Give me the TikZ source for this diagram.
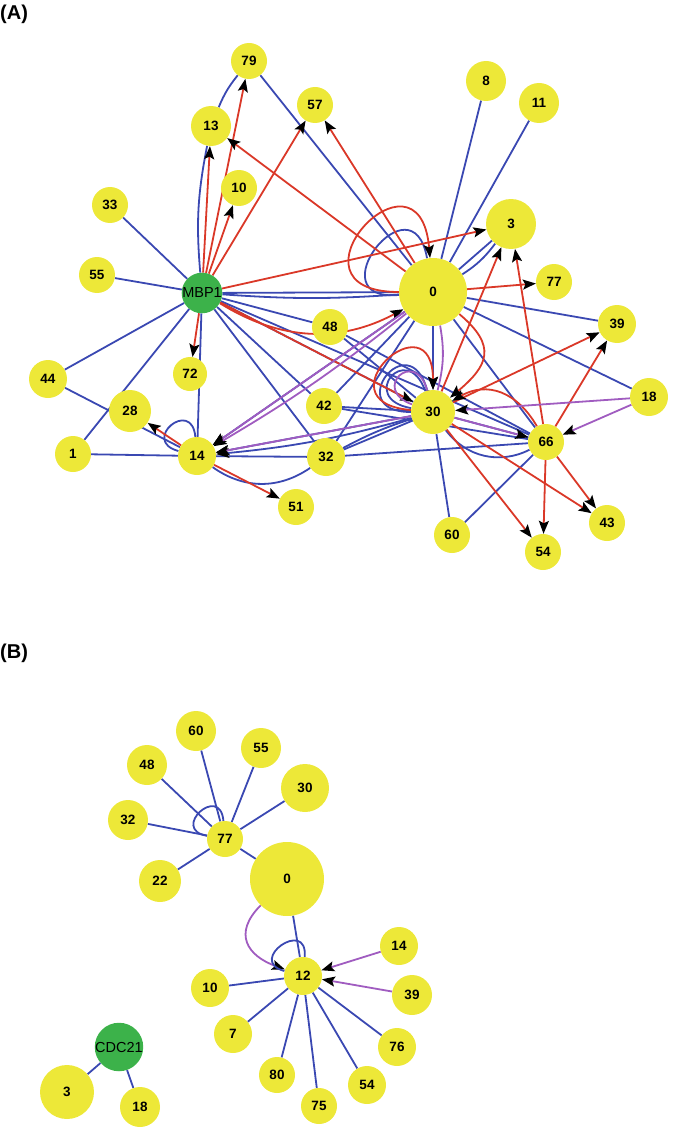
\documentclass[tikz,border=0pt]{standalone}
\usepackage{fontspec}
\setmainfont{Liberation Sans}
\usetikzlibrary{arrows.meta, backgrounds}

\definecolor{geneyellow}{RGB}{237,232,56}
\definecolor{genegreen}{RGB}{60,178,74}
\definecolor{linkblue}{RGB}{58,72,178}
\definecolor{linkred}{RGB}{218,56,40}
\definecolor{linkpurple}{RGB}{160,92,192}

\begin{document}
\begin{tikzpicture}
            [x=1pt, y=1pt,
            gene/.style={circle, fill=geneyellow, inner sep=0pt, minimum size=36pt, font=\bfseries\fontsize{13.5}{13.5}\selectfont},
            hub/.style={circle, fill=genegreen, inner sep=0pt, minimum size=40pt, font=\fontsize{14.5}{14.5}\selectfont},
            panel/.style={anchor=west, inner sep=0pt, font=\bfseries\fontsize{20}{20}\selectfont},
            link/.style={line width=1.8pt},
            tip/.style={-{Stealth[black, length=13pt, width=10pt, inset=2.5pt]}},
            bl/.style={link, draw=linkblue},
            bla/.style={link, draw=linkblue, tip},
            rd/.style={link, draw=linkred, tip},
            pu/.style={link, draw=linkpurple, tip},
            pl/.style={link, draw=linkpurple}]
            \useasboundingbox (0,0) rectangle (685,-1142);

            \node[panel]  (labA)  at (0,-14)   {(A)};
            \node[panel]  (labB)  at (0,-653)  {(B)};

            % panel A
            \node[hub]   (MBP1)  at (202,-293) {MBP1};
            \node[gene]  (A79)   at (249,-61)  {79};
            \node[gene, minimum size=40pt]  (A13)   at (211,-126) {13};
            \node[gene]  (A57)   at (315,-105) {57};
            \node[gene]  (A10)   at (239,-188) {10};
            \node[gene]  (A33)   at (110,-205) {33};
            \node[gene]  (A55)   at (97,-275)  {55};
            \node[gene, minimum size=38pt]  (A44)   at (48,-379)  {44};
            \node[gene, minimum size=34pt]  (A72)   at (190,-374) {72};
            \node[gene, minimum size=42pt]  (A28)   at (130,-411) {28};
            \node[gene]  (A1)    at (73,-454)  {1};
            \node[gene, minimum size=38pt]  (A14)   at (197,-456) {14};
            \node[gene, minimum size=38pt]  (A32)   at (326,-457) {32};
            \node[gene]  (A42)   at (324,-406) {42};
            \node[gene]  (A48)   at (330,-327) {48};
            \node[gene]  (A51)   at (296,-507) {51};
            \node[gene, minimum size=40pt]  (A8)    at (486,-81)  {8};
            \node[gene, minimum size=40pt]  (A11)   at (539,-103) {11};
            \node[gene, minimum size=50pt]  (A3)    at (511,-224) {3};
            \node[gene, minimum size=68pt]  (A0)    at (433,-292) {0};
            \node[gene]  (A77)   at (554,-282) {77};
            \node[gene, minimum size=38pt]  (A39)   at (617,-324) {39};
            \node[gene, minimum size=38pt]  (A18)   at (649,-397) {18};
            \node[gene, minimum size=44pt]  (A30)   at (433,-412) {30};
            \node[gene]  (A66)   at (546,-442) {66};
            \node[gene]  (A60)   at (452,-535) {60};
            \node[gene]  (A54)   at (543,-552) {54};
            \node[gene]  (A43)   at (607,-523) {43};

            % panel B
            \node[gene, minimum size=40pt]  (B60)   at (196,-731) {60};
            \node[gene, minimum size=40pt]  (B55)   at (261,-748) {55};
            \node[gene, minimum size=40pt]  (B48)   at (147,-765) {48};
            \node[gene, minimum size=48pt]  (B30)   at (305,-788) {30};
            \node[gene, minimum size=40pt]  (B32)   at (128,-820) {32};
            \node[gene]  (B77)   at (225,-839) {77};
            \node[gene, minimum size=42pt]  (B22)   at (160,-881) {22};
            \node[gene, minimum size=74pt]  (B0)    at (287,-879) {0};
            \node[gene, minimum size=38pt]  (B12)   at (303,-976) {12};
            \node[gene, minimum size=38pt]  (B14)   at (399,-946) {14};
            \node[gene, minimum size=40pt]  (B39)   at (412,-995) {39};
            \node[gene, minimum size=38pt]  (B10)   at (210,-988) {10};
            \node[gene, minimum size=38pt]  (B7)    at (233,-1034) {7};
            \node[gene, minimum size=38pt]  (B76)   at (397,-1047) {76};
            \node[gene]  (B80)   at (277,-1075) {80};
            \node[gene, minimum size=38pt]  (B54)   at (367,-1085) {54};
            \node[gene]  (B75)   at (319,-1106) {75};
            \node[hub, minimum size=44pt]   (CDC21) at (119,-1047) {CDC21};
            \node[gene, minimum size=54pt]  (B3)    at (67,-1092) {3};
            \node[gene, minimum size=40pt]  (B18)   at (140,-1107) {18};

            \begin{pgfonlayer}{background}
            % blue links of A
            \path (MBP1) edge [bl]                 (A33)
                  (MBP1) edge [bl]                 (A55)
                  (MBP1) edge [bl]                 (A44)
                  (MBP1) edge [bl]                 (A1)
                  (MBP1) edge [bl]                 (A14)
                  (MBP1) edge [bl, bend left=8]    (A13)
                  (A13)  edge [bl, bend left=8]    (A79)
                  (A79)  edge [bl]                 (A0)
                  (MBP1) edge [bl]                 (A0)
                  (MBP1) edge [bl, bend right=4]   (A0)
                  (MBP1) edge [bl]                 (A48)
                  (MBP1) edge [bl]                 (A42)
                  (MBP1) edge [bl]                 (A32)
                  (MBP1) edge [bl]                 (A30)
                  (MBP1) edge [bl]                 (A66)
                  (A44)  edge [bl]                 (A14)
                  (A1)   edge [bl]                 (A14)
                  (A0)   edge [bl]                 (A8)
                  (A0)   edge [bl]                 (A11)
                  (A0)   edge [bl]                 (A3)
                  (A0)   edge [bl, bend right=10]  (A3)
                  (A0)   edge [bl]                 (A39)
                  (A0)   edge [bl]                 (A18)
                  (A0)   edge [bl]                 (A66)
                  (A0)   edge [bla]                (A30)
                  (A48)  edge [bl]                 (A30)
                  (A48)  edge [bl]                 (A66)
                  (A42)  edge [bl]                 (A30)
                  (A42)  edge [bl]                 (A66)
                  (A42)  edge [bl]                 (A0)
                  (A32)  edge [bl]                 (A0)
                  (A32)  edge [bl]                 (A30)
                  (A32)  edge [bl, bend left=5]    (A30)
                  (A32)  edge [bl]                 (A66)
                  (A30)  edge [bl]                 (A60)
                  (A66)  edge [bl]                 (A60)
                  (A30)  edge [bl]                 (A66)
                  (A30)  edge [bl, bend right=40]  (A66)
                  (A14)  edge [bl]                 (A32)
                  (A14)  edge [bl, bend right=35]  (A32)
                  (A0)   edge [bla]                (A14)
                  (A30)  edge [bla]                (A14)
                  (A30)  edge [bla, bend left=5]   (A14)
                  (A0)   edge [bl, out=185, in=100, distance=85pt]  (A0)
                  (A30)  edge [bl, out=180, in=105, distance=70pt]  (A30)
                  (A30)  edge [bl, out=170, in=110, distance=55pt]  (A30)
                  (A14)  edge [bl, out=165, in=95, distance=40pt]   (A14);
            % red links of A
            \path (MBP1) edge [rd]                 (A79)
                  (MBP1) edge [rd]                 (A13)
                  (MBP1) edge [rd]                 (A10)
                  (MBP1) edge [rd]                 (A57)
                  (MBP1) edge [rd]                 (A72)
                  (MBP1) edge [rd]                 (A3)
                  (MBP1) edge [rd, bend right=30]  (A0)
                  (MBP1) edge [rd]                 (A30)
                  (A0)   edge [rd]                 (A13)
                  (A0)   edge [rd]                 (A57)
                  (A0)   edge [rd]                 (A77)
                  (A0)   edge [rd, out=-40, in=40, distance=50pt]   (A30)
                  (A30)  edge [rd]                 (A3)
                  (A66)  edge [rd]                 (A3)
                  (A30)  edge [rd]                 (A39)
                  (A66)  edge [rd]                 (A39)
                  (A30)  edge [rd]                 (A54)
                  (A30)  edge [rd]                 (A43)
                  (A66)  edge [rd]                 (A54)
                  (A66)  edge [rd]                 (A43)
                  (A66)  edge [rd, out=120, in=30, distance=40pt]   (A30)
                  (A14)  edge [rd]                 (A28)
                  (A14)  edge [rd]                 (A51)
                  (A0)   edge [rd, out=180, in=95, distance=125pt]  (A0)
                  (A30)  edge [rd, out=175, in=90, distance=95pt]   (A30);
            % purple links of A
            \path (A18)  edge [pu]                 (A30)
                  (A18)  edge [pu]                 (A66)
                  (A30)  edge [pu]                 (A66)
                  (A0)   edge [pu]                 (A14)
                  (A0)   edge [pu, bend left=4]    (A14)
                  (A30)  edge [pu]                 (A14)
                  (A0)   edge [pl, bend left=12]   (A30)
                  (A30)  edge [pl, out=160, in=105, distance=45pt]  (A30);

            % links of B
            \path (B77)  edge [bl]                 (B60)
                  (B77)  edge [bl]                 (B55)
                  (B77)  edge [bl]                 (B48)
                  (B77)  edge [bl]                 (B30)
                  (B77)  edge [bl]                 (B32)
                  (B77)  edge [bl]                 (B22)
                  (B77)  edge [bl]                 (B0)
                  (B77)  edge [bl, out=170, in=95, distance=38pt]   (B77)
                  (B0)   edge [bl]                 (B12)
                  (B0)   edge [pu, out=225, in=160, distance=40pt]  (B12)
                  (B12)  edge [bl, out=165, in=85, distance=40pt]   (B12)
                  (B14)  edge [pu]                 (B12)
                  (B39)  edge [pu]                 (B12)
                  (B12)  edge [bl]                 (B10)
                  (B12)  edge [bl]                 (B7)
                  (B12)  edge [bl]                 (B80)
                  (B12)  edge [bl]                 (B75)
                  (B12)  edge [bl]                 (B54)
                  (B12)  edge [bl]                 (B76)
                  (CDC21) edge [bl]                (B3)
                  (CDC21) edge [bl]                (B18);
            \end{pgfonlayer}
\end{tikzpicture}
\end{document}
